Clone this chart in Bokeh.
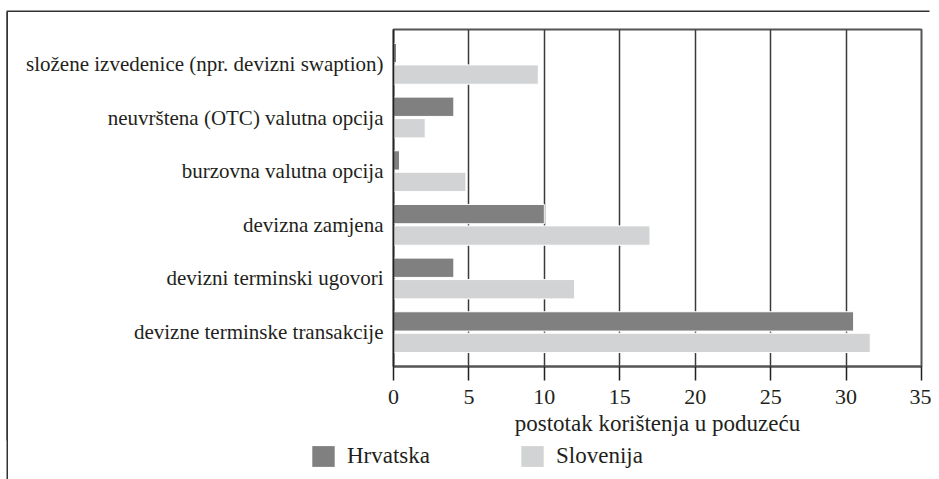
from bokeh.plotting import figure
from bokeh.models import (ColumnDataSource, FactorRange, Range1d, FixedTicker, Legend, LegendItem, Label)
from bokeh.transform import dodge
from bokeh.embed import file_html
from bokeh.resources import INLINE

# ---- data ----
categories = [
    "složene izvedenice (npr. devizni swaption)",
    "neuvrštena (OTC) valutna opcija",
    "burzovna valutna opcija",
    "devizna zamjena",
    "devizni terminski ugovori",
    "devizne terminske transakcije",
]
hrvatska = [0.2, 4.0, 0.4, 10.0, 4.0, 30.5]
slovenija = [9.6, 2.1, 4.8, 17.0, 12.0, 31.6]
x_ticks = [0, 5, 10, 15, 20, 25, 30, 35]
series_names = ["Hrvatska", "Slovenija"]
x_title = "postotak korištenja u poduzeću"

# ---- style / layout ----
DARK = "#808080"
LIGHT = "#d1d3d4"
TXT = "#231f20"
FONT = "Liberation Serif"
FRAME_LEFT = 385
FRAME_TOP = 17
FRAME_W = 528
FRAME_H = 337
BOTTOM = 76
PAD = 0.14
TOTAL_W = FRAME_LEFT + FRAME_W + 10
LEG_H = 37

src = ColumnDataSource(dict(cat=categories, hr=hrvatska, sl=slovenija))

p = figure(
    y_range=FactorRange(factors=categories[::-1], range_padding=PAD, range_padding_units="absolute"),
    x_range=Range1d(0, 35),
    width=TOTAL_W, height=FRAME_TOP + FRAME_H + BOTTOM,
    frame_width=FRAME_W, frame_height=FRAME_H,
    min_border_left=FRAME_LEFT, min_border_right=10, min_border_top=FRAME_TOP, min_border_bottom=BOTTOM,
    output_backend="svg", toolbar_location=None,
)
p.styles = {"margin-left": "8px", "margin-top": "12px",
            "box-shadow": "-1.5px -1.5px 0px 0px #333333, -1.5px 0px 0px 0px #333333"}
p.background_fill_color = "white"
p.border_fill_color = "white"
p.outline_line_color = "#555555"
p.outline_line_width = 2

r1 = p.hbar(y=dodge("cat", 0.2, range=p.y_range), left=0, right="hr", height=0.36, source=src,
            fill_color=DARK, line_color="white", line_width=1)
r2 = p.hbar(y=dodge("cat", -0.2, range=p.y_range), left=0, right="sl", height=0.36, source=src,
            fill_color=LIGHT, line_color="white", line_width=1)

ticker = FixedTicker(ticks=x_ticks)
p.xaxis.ticker = ticker
p.xgrid.ticker = ticker
p.xgrid.grid_line_color = "#3a3a3a"
p.xgrid.grid_line_width = 1.5
p.ygrid.grid_line_color = None

xa = p.xaxis[0]
xa.axis_line_color = "#555555"
xa.axis_line_width = 2
xa.major_tick_out = 14
xa.major_tick_in = 0
xa.major_tick_line_color = TXT
xa.major_tick_line_width = 1.5
xa.minor_tick_line_color = None
xa.major_label_standoff = 9
xa.major_label_text_font = FONT
xa.major_label_text_font_size = "22px"
xa.major_label_text_color = TXT
xa.axis_label = x_title
xa.axis_label_text_font = FONT
xa.axis_label_text_font_size = "23px"
xa.axis_label_text_font_style = "normal"
xa.axis_label_text_color = TXT
xa.axis_label_standoff = 4

ya = p.yaxis[0]
ya.axis_line_color = "#222222"
ya.axis_line_width = 1.5
ya.major_tick_out = 0
ya.major_tick_in = 0
ya.minor_tick_line_color = None
ya.major_label_standoff = 10
ya.major_label_text_font = FONT
ya.major_label_text_font_size = "21px"
ya.major_label_text_color = TXT
ya.major_label_overrides = {categories[0]: ""}

# first category label with italic "swaption" (placed at the top category's centre)
n = len(categories)
span = n + 2 * PAD
y_first = FRAME_TOP + (PAD + 0.5) / span * FRAME_H
LBL_R = FRAME_LEFT - 10
fs = 21
w_paren = 0.333 * fs
w_ital = 3.612 * fs
w_space = 0.25 * fs
parts = [
    (")", LBL_R, "normal"),
    ("swaption", LBL_R - w_paren, "italic"),
    ("složene izvedenice (npr. devizni", LBL_R - w_paren - w_ital - w_space, "normal"),
]
for txt, xr, style in parts:
    p.add_layout(Label(x=xr, y=y_first, x_units="canvas", y_units="canvas", text=txt,
                       text_align="right", text_baseline="middle", text_font=FONT,
                       text_font_size=f"{fs}px", text_font_style=style, text_color=TXT))

# ---- legend strip (separate small figure below the chart) ----
p2 = figure(width=TOTAL_W, height=LEG_H, x_range=Range1d(0, TOTAL_W), y_range=Range1d(0, LEG_H),
            x_axis_type=None, y_axis_type=None, min_border=0,
            output_backend="svg", toolbar_location=None)
p2.styles = {"margin-left": "8px", "box-shadow": "-1.5px 0px 0px 0px #333333"}
p2.grid.grid_line_color = None
p2.outline_line_color = None
p2.background_fill_color = "white"
p2.border_fill_color = "white"
# legend-only swatch renderers (one off-range row so the swatch has a colour to draw)
lr1 = p2.hbar(y=[-100], left=[0], right=[0], height=1, fill_color=DARK, line_color=None)
lr2 = p2.hbar(y=[-100], left=[0], right=[0], height=1, fill_color=LIGHT, line_color=None)

legend = Legend(
    items=[LegendItem(label=series_names[0], renderers=[lr1]),
           LegendItem(label=series_names[1], renderers=[lr2])],
    orientation="horizontal", location=(FRAME_LEFT - 84, 10),
    glyph_width=28, glyph_height=26, label_standoff=10, spacing=88,
    padding=0, margin=0, border_line_color=None, background_fill_alpha=0,
    label_text_font=FONT, label_text_font_size="23px", label_text_color=TXT, label_height=26,
)
p2.add_layout(legend, "center")

open("out.html", "w").write(file_html([p, p2], INLINE))
